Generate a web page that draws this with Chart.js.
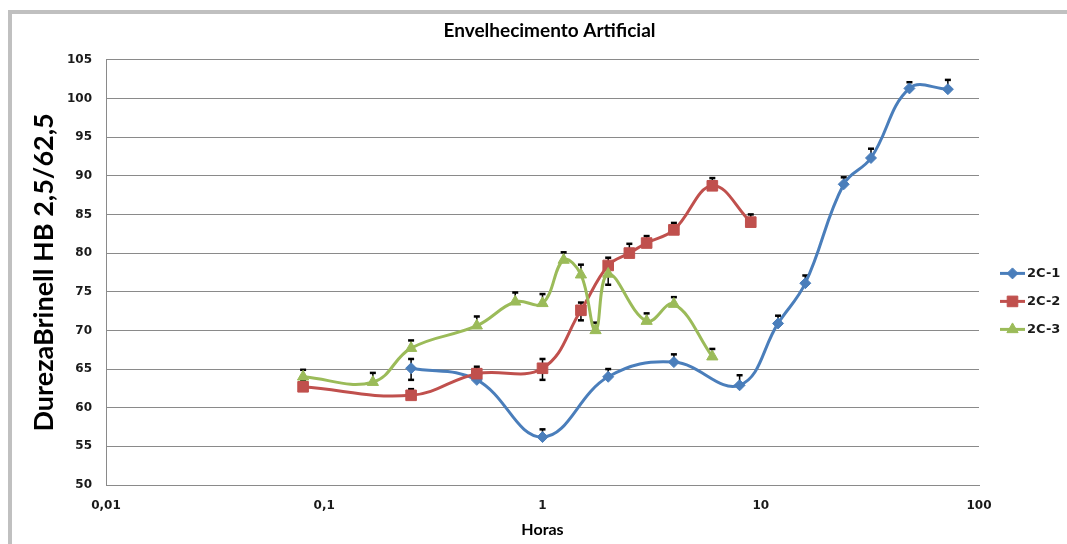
<!DOCTYPE html>
<html>
<head>
<meta charset="utf-8">
<title>Envelhecimento Artificial</title>
<script src="https://cdn.jsdelivr.net/npm/chart.js@4.4.0/dist/chart.umd.min.js"></script>
<style>
  html, body { margin: 0; padding: 0; background: #fff; }
  #wrap { position: relative; width: 1067px; height: 544px; overflow: hidden; }
  #frame { position: absolute; left: 8px; top: 10px; right: -10px; bottom: -10px;
           border-left: 4px solid #c0c0c0; border-top: 4px solid #c0c0c0; }
  canvas { position: absolute; left: 0; top: 0; }
</style>
</head>
<body>
<div id="wrap">
  <div id="frame"></div>
  <canvas id="chart" width="1067" height="544"></canvas>
</div>
<script>
// Tempo de envelhecimento (horas), dureza Brinell e desvios (para cima / para baixo)
const horas1   = [0.25, 0.5, 1, 2, 4, 8, 12, 16, 24, 32, 48, 72];
const dureza1  = [65.1, 63.6, 56.2, 64.0, 65.9, 62.9, 70.9, 76.1, 88.9, 92.3, 101.3, 101.2];
const erroMais1  = [1.2, 1.0, 1.0, 1.0, 1.0, 1.3, 1.0, 1.0, 0.9, 1.2, 0.8, 1.2];
const erroMenos1 = [1.5, 0, 0, 0, 0, 0, 0, 0, 0, 0, 0, 0];

const horas2   = [0.08, 0.25, 0.5, 1, 1.5, 2, 2.5, 3, 4, 6, 9];
const dureza2  = [62.7, 61.6, 64.4, 65.1, 72.6, 78.4, 80.0, 81.3, 83.0, 88.7, 84.0];
const erroMais2  = [0.8, 0.8, 0.9, 1.2, 1.0, 1.0, 1.2, 0.9, 0.9, 1.0, 1.0];
const erroMenos2 = [0, 0, 0, 1.5, 1.3, 0, 0, 0, 0, 0, 0];

const horas3   = [0.08, 0.167, 0.25, 0.5, 0.75, 1, 1.25, 1.5, 1.75, 2, 3, 4, 6];
const dureza3  = [64.0, 63.3, 67.7, 70.6, 73.7, 73.5, 79.1, 77.2, 70.0, 77.3, 71.2, 73.4, 66.6];
const erroMais3  = [0.9, 1.2, 1.0, 1.2, 1.2, 1.2, 1.0, 1.3, 1.0, 1.0, 1.0, 0.9, 1.0];
const erroMenos3 = [0, 0, 0, 0, 0, 0, 0, 0, 0, 1.4, 0, 0, 0];

const seriesNames  = ['2C-1', '2C-2', '2C-3'];
const xTickValues  = [0.01, 0.1, 1, 10, 100];
const xTickLabels  = ['0,01', '0,1', '1', '10', '100'];

const toPoints = (xs, ys) => xs.map((h, i) => ({ x: h, y: ys[i] }));

const TICK_FONT = { family: 'DejaVu Sans', size: 12, weight: 'bold' };
const GRID_COLOR = '#8a8a8a';

// Barras de erro desenhadas antes das séries, para os marcadores ficarem por cima
const errorBars = {
  id: 'errorBars',
  beforeDatasetsDraw(chart) {
    const { ctx, scales: { x, y } } = chart;
    ctx.save();
    ctx.strokeStyle = '#000';
    chart.data.datasets.forEach(ds => {
      ds.data.forEach((p, i) => {
        const px = x.getPixelForValue(p.x);
        const py = y.getPixelForValue(p.y);
        [ds.errPlus[i], -ds.errMinus[i]].forEach(e => {
          if (!e) return;
          const end = y.getPixelForValue(p.y + e);
          ctx.lineWidth = 1.5;
          ctx.beginPath(); ctx.moveTo(px, py); ctx.lineTo(px, end); ctx.stroke();
          ctx.lineWidth = 2.5;
          ctx.beginPath(); ctx.moveTo(px - 3, end); ctx.lineTo(px + 3, end); ctx.stroke();
        });
      });
    });
    ctx.restore();
  }
};

// Legenda lateral: linha + marcador + nome da série
const sideLegend = {
  id: 'sideLegend',
  afterDraw(chart) {
    const { ctx, chartArea } = chart;
    const x0 = chartArea.right + 21;
    const mid = (chartArea.top + chartArea.bottom) / 2 + 29;
    ctx.save();
    chart.data.datasets.forEach((ds, i) => {
      const yy = mid + (i - 1) * 28;
      ctx.strokeStyle = ds.borderColor;
      ctx.lineWidth = ds.borderWidth;
      ctx.beginPath(); ctx.moveTo(x0, yy); ctx.lineTo(x0 + 25, yy); ctx.stroke();
      ctx.fillStyle = ds.backgroundColor;
      ctx.lineWidth = 1;
      Chart.helpers.drawPoint(ctx, {
        pointStyle: ds.pointStyle, rotation: 0,
        radius: ds.pointRadius, borderWidth: 1
      }, x0 + 12.5, yy);
      ctx.fillStyle = '#1a1a1a';
      ctx.font = 'bold 13px "DejaVu Sans"';
      ctx.textBaseline = 'middle';
      ctx.textAlign = 'left';
      ctx.fillText(ds.label, x0 + 27, yy);
    });
    ctx.restore();
  }
};

// Título centrado um pouco à direita do centro da área do gráfico
const titleShift = {
  id: 'titleShift',
  afterLayout(chart) {
    if (chart.titleBlock) {
      chart.titleBlock.left += 7;
      chart.titleBlock.right += 7;
    }
  }
};

const makeSeries = (label, xs, ys, plus, minus, color, style, radius, order) => ({
  label,
  data: toPoints(xs, ys),
  errPlus: plus,
  errMinus: minus,
  showLine: true,
  borderColor: color,
  backgroundColor: color,
  borderWidth: 3,
  tension: 0.4,
  pointStyle: style,
  pointRadius: radius,
  pointBorderWidth: 1,
  order
});

new Chart(document.getElementById('chart'), {
  type: 'scatter',
  data: {
    datasets: [
      makeSeries(seriesNames[0], horas1, dureza1, erroMais1, erroMenos1, '#4A7EBB', 'rectRot', 5.5, 2),
      makeSeries(seriesNames[1], horas2, dureza2, erroMais2, erroMenos2, '#C0504D', 'rect', 7.5, 1),
      makeSeries(seriesNames[2], horas3, dureza3, erroMais3, erroMenos3, '#9BBB59', 'triangle', 6.5, 0)
    ]
  },
  options: {
    responsive: false,
    animation: false,
    events: [],
    layout: { padding: { left: 0, right: 88, top: 0, bottom: 0 } },
    plugins: {
      legend: { display: false },
      tooltip: { enabled: false },
      title: {
        display: true,
        text: 'Envelhecimento Artificial',
        color: '#000',
        fullSize: false,
        font: { family: 'Lato', size: 19, weight: 'bold' },
        padding: { top: 19, bottom: 18 }
      }
    },
    scales: {
      x: {
        type: 'logarithmic',
        min: 0.01,
        max: 100,
        afterBuildTicks(scale) {
          scale.ticks = xTickValues.map(v => ({ value: v, major: true }));
        },
        afterFit(scale) { scale.height = 59; },
        ticks: {
          autoSkip: false,
          maxRotation: 0,
          padding: 14,
          color: '#1a1a1a',
          font: TICK_FONT,
          callback: (v, i) => xTickLabels[i]
        },
        grid: { color: 'transparent', drawTicks: false },
        border: { display: true, color: GRID_COLOR, width: 1 },
        title: {
          display: true,
          text: 'Horas',
          color: '#000',
          font: { family: 'Lato', size: 16, weight: 'bold' },
          padding: { top: 0, bottom: 5 }
        }
      },
      y: {
        min: 50,
        max: 105,
        afterFit(scale) { scale.width = 106; },
        ticks: {
          stepSize: 5,
          padding: 14,
          color: '#1a1a1a',
          font: TICK_FONT
        },
        grid: { color: GRID_COLOR, lineWidth: 1, drawTicks: false },
        border: { display: true, color: GRID_COLOR, width: 1 },
        title: {
          display: true,
          text: 'DurezaBrinell HB 2,5/62,5',
          color: '#000',
          font: { family: 'Lato', size: 27, weight: 'bold' },
          padding: { top: 28, bottom: 0 }
        }
      }
    }
  },
  plugins: [errorBars, sideLegend, titleShift]
});
</script>
</body>
</html>
